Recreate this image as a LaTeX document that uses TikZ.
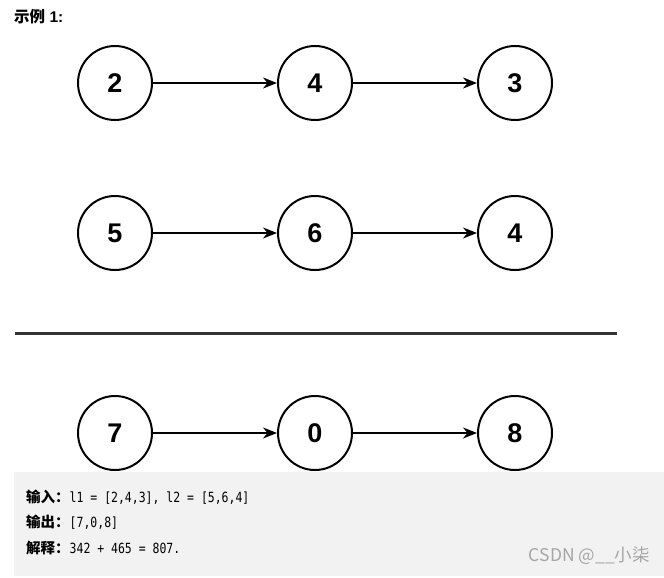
\documentclass[tikz,border=0pt]{standalone}
\usepackage{fontspec}
\setmainfont{Liberation Sans}
\setmonofont[FakeStretch=0.82]{DejaVu Sans Mono}
\newfontfamily\cjk{Noto Sans CJK SC}
\usetikzlibrary{arrows.meta}
\begin{document}
\begin{tikzpicture}[x=1pt,y=-1pt,
  nd/.style={circle,draw=black,line width=2pt,minimum size=74pt,inner sep=0pt,font=\fontsize{27}{30}\selectfont\bfseries},
  link/.style={line width=1.8pt,-{Stealth[length=14pt,width=11pt]}},
  txt/.style={anchor=west,inner sep=0pt,font=\fontsize{14}{16}\selectfont}]
\useasboundingbox (0,0) rectangle (664,578);
\fill[white] (0,0) rectangle (664,578);
\node[anchor=west,inner sep=0pt,font=\fontsize{15.5}{18}\selectfont\bfseries] (hdr) at (14,17) {{\cjk\bfseries 示例} 1:};
\foreach \r/\y/\a/\b/\c in {1/83/2/4/3, 2/233/5/6/4, 3/433/7/0/8}{
  \node[nd] (a\r) at (115,\y) {\a};
  \node[nd] (b\r) at (315,\y) {\b};
  \node[nd] (c\r) at (515,\y) {\c};
  \draw[link] (a\r) -- (b\r);
  \draw[link] (b\r) -- (c\r);
}
\coordinate (l0) at (15,333);
\coordinate (l1) at (617,333);
\draw[line width=3pt,black!80] (l0) -- (l1);
\fill[black!5] (14,472) rectangle (664,576);
\node[txt] (t1) at (26,497) {{\cjk\bfseries\fontsize{14.5}{16}\selectfont 输入：}\ttfamily l1 = [2,4,3], l2 = [5,6,4]};
\node[txt] (t2) at (26,522) {{\cjk\bfseries\fontsize{14.5}{16}\selectfont 输出：}\ttfamily [7,0,8]};
\node[txt] (t3) at (26,548) {{\cjk\bfseries\fontsize{14.5}{16}\selectfont 解释：}\ttfamily 342 + 465 = 807.};
\node[anchor=east,inner sep=0pt,text=black!35,font=\fontsize{17.5}{20}\selectfont\cjk] (wm) at (650,556) {CSDN @\_\_小柒};
\end{tikzpicture}
\end{document}
